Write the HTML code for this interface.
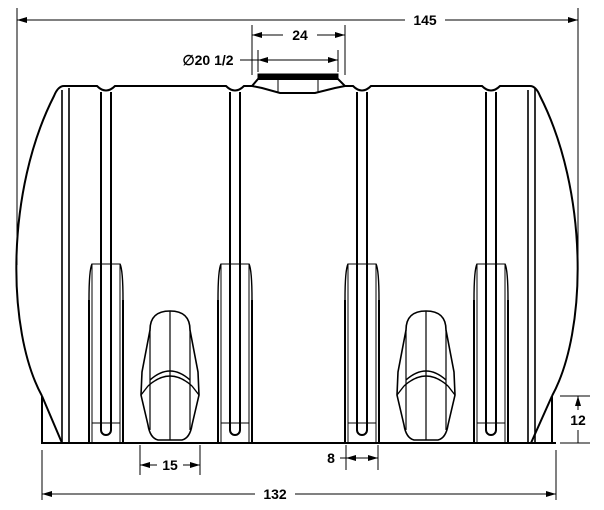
<!DOCTYPE html>
<html><head><style>body{margin:0;background:#fff}svg{display:block}</style></head><body>
<svg width="604" height="510" viewBox="0 0 604 510" xmlns="http://www.w3.org/2000/svg" font-family="Liberation Sans, sans-serif" font-weight="bold" font-size="14">
<defs>
<marker id="a" viewBox="0 0 10 6" refX="10" refY="3" markerWidth="10" markerHeight="6" orient="auto-start-reverse"><path d="M0,0L10,3L0,6z" fill="#000"/></marker>
<g id="leg" fill="none" stroke="#000">
<path d="M-17,443V300M17,443V300" stroke-width="2"/>
<path d="M-14,443V264H14V443M-14,423H14"/>
<path d="M-17,300Q-17,270 -14,264M17,300Q17,270 14,264" stroke-width="1.4"/>
<path d="M-5,92V430A5,5 0 0 0 5,430V92" stroke-width="2"/>
</g>
<g id="tap" fill="none" stroke="#000" stroke-width="1.6">
<path d="M0,311C-14,311 -20,318 -20,330L-28,372L-29,395L-22,425Q-20,438 -12,440H12Q20,438 22,425L29,395L28,372L20,330C20,318 14,311 0,311Z"/>
<path d="M0,311V440M-20,330V430M20,330V430" stroke-width="1.2"/>
<path d="M-22,386Q0,366 22,386M-20,380Q0,362 20,380M-29,395L-22,386M29,395L22,386" stroke-width="1.4"/>
</g>
</defs>
<g fill="none" stroke="#000">
<path d="M64,86H97Q106,95 115,86H226Q235,95 244,86H252M345,86H353Q362,95 371,86H482Q491,95 500,86H530" stroke-width="2"/>
<path d="M64,86Q58,86 54,96C6,190 6,330 42,396" stroke-width="2"/>
<path d="M530,86Q536,86 540,96C588,190 588,330 552,396" stroke-width="2"/>
<path d="M42,443H556" stroke-width="2"/>
<path d="M62,90V443M69,88V443M535,88V443M528,90V443" stroke-width="1.6"/>
<path d="M42,396V443H62Z M552,396V443H531Z" stroke-width="2"/>
<path d="M252,86L258,79H338L345,86L335,88L315,93H280L262,88Z" stroke-width="2"/>
<rect x="258" y="74" width="80" height="5" fill="#000"/>
<path d="M278,79V93M318,79V93"/>
<path d="M17,8V265M578,8V265M42,450V500M556,450V500"/>
<path d="M17,20H405M445,20H578" marker-start="url(#a)" marker-end="url(#a)"/>
<path d="M252,25V75M345,25V75M258,50V72M338,50V72"/>
<path d="M252,35H283M317,35H345" marker-start="url(#a)" marker-end="url(#a)"/>
<path d="M240,60H338" marker-end="url(#a)"/>
<path d="M258,60H270" marker-start="url(#a)"/>
<path d="M42,494H255M295,494H556" marker-start="url(#a)" marker-end="url(#a)"/>
<path d="M140,445V475M200,445V475"/>
<path d="M140,465H157M183,465H200" marker-start="url(#a)" marker-end="url(#a)"/>
<path d="M346,445V470M378,445V470"/>
<path d="M340,458H378"/>
<path d="M346,458H358" marker-start="url(#a)"/>
<path d="M366,458H378" marker-end="url(#a)"/>
<path d="M560,396H590M560,443H590"/>
<path d="M578,396V410M578,430V443" marker-start="url(#a)"/>
</g>
<use href="#leg" x="106"/><use href="#leg" x="235"/><use href="#leg" x="362"/><use href="#leg" x="491"/>
<use href="#tap" x="170"/><use href="#tap" x="426"/>
<text x="425" y="25" text-anchor="middle">145</text>
<text x="300" y="40" text-anchor="middle">24</text>
<text x="208" y="65" text-anchor="middle">∅20 1/2</text>
<text x="275" y="499" text-anchor="middle">132</text>
<text x="170" y="470" text-anchor="middle">15</text>
<text x="331" y="463" text-anchor="middle">8</text>
<text x="578" y="425" text-anchor="middle">12</text>
</svg>
</body></html>
